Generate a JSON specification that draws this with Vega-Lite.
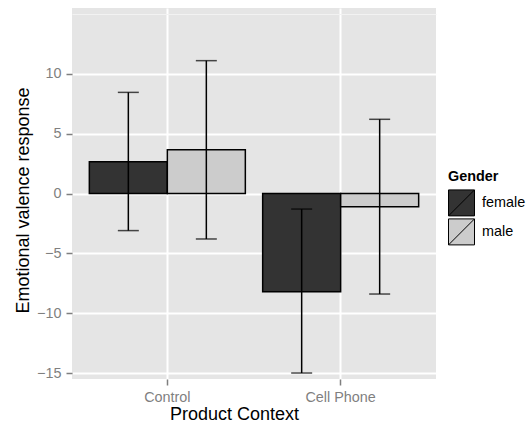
{
  "$schema": "https://vega.github.io/schema/vega-lite/v6.json",
  "autosize": {"type": "none"},
  "padding": {"left": 72, "top": 8, "right": 94, "bottom": 44},
  "width": 364,
  "height": 371,
  "data": {"values": [
    {"context": "Control", "gender": "female", "mean": 2.65, "lo": -3.1, "hi": 8.45},
    {"context": "Control", "gender": "male", "mean": 3.65, "lo": -3.8, "hi": 11.1},
    {"context": "Cell Phone", "gender": "female", "mean": -8.2, "lo": -15.0, "hi": -1.3},
    {"context": "Cell Phone", "gender": "male", "mean": -1.1, "lo": -8.4, "hi": 6.2}
  ]},
  "encoding": {
    "x": {
      "field": "context", "type": "nominal", "sort": ["Control", "Cell Phone"],
      "scale": {"paddingInner": 0.1, "paddingOuter": 0.1},
      "axis": {
        "title": "Product Context", "labelAngle": 0, "domain": false,
        "grid": true, "gridColor": "#FFFFFF", "gridWidth": 2, "bandPosition": 0.5,
        "tickColor": "#7F7F7F", "tickSize": 6, "tickWidth": 1.5,
        "labelColor": "#7F7F7F", "labelFontSize": 14.4, "labelFont": "Liberation Sans", "labelPadding": 5,
        "titleFont": "Liberation Sans", "titleFontSize": 18, "titleFontWeight": "normal", "titleColor": "#000000",
        "titleX": 162, "titleY": 40, "titleBaseline": "alphabetic", "titleAlign": "center", "titleAnchor": null
      }
    },
    "xOffset": {"field": "gender", "type": "nominal", "scale": {"paddingInner": 0, "paddingOuter": 0}}
  },
  "layer": [
    {
      "mark": {"type": "bar", "stroke": "#000000", "strokeWidth": 1.5},
      "encoding": {
        "y": {
          "field": "mean", "type": "quantitative",
          "scale": {"domain": [-15.5, 15.5], "nice": false, "zero": false},
          "axis": {
            "title": "Emotional valence response", "domain": false,
            "values": [-15, -12.5, -10, -7.5, -5, -2.5, 0, 2.5, 5, 7.5, 10, 12.5, 15],
            "format": "d",
            "labelExpr": "(datum.value % 5 === 0 && datum.value < 15) ? datum.label : ''",
            "grid": true,
            "gridColor": {"condition": {"test": "datum.value % 5 === 0 && datum.value < 15", "value": "#FFFFFF"}, "value": "#F2F2F2"},
            "gridWidth": {"condition": {"test": "datum.value % 5 === 0 && datum.value < 15", "value": 2}, "value": 1},
            "tickColor": {"condition": {"test": "datum.value % 5 === 0 && datum.value < 15", "value": "#7F7F7F"}, "value": "rgba(0,0,0,0)"},
            "tickSize": 6, "tickWidth": 1.5,
            "labelColor": "#7F7F7F", "labelFontSize": 14.4, "labelFont": "Liberation Sans", "labelPadding": 5,
            "titleFont": "Liberation Sans", "titleFontSize": 18, "titleFontWeight": "normal", "titleColor": "#000000",
            "titleX": -44, "titleY": 192, "titleBaseline": "alphabetic", "titleAlign": "center", "titleAngle": 270, "titleAnchor": null
          }
        },
        "fill": {
          "field": "gender", "type": "nominal",
          "scale": {"domain": ["female", "male"], "range": ["#333333", "#CCCCCC"]},
          "legend": {
            "title": "Gender", "orient": "none", "legendX": 376, "legendY": 162, "padding": 0,
            "titleFont": "Liberation Sans", "titleFontSize": 14.4, "titleFontWeight": "bold", "titleColor": "#000000", "titlePadding": 5,
            "labelFont": "Liberation Sans", "labelFontSize": 14.4, "labelColor": "#000000", "labelOffset": 7,
            "symbolType": "M-1,-1L1,-1L1,1L-1,1Z M-1,1L1,-1", "symbolSize": 676,
            "symbolStrokeColor": "#000000", "symbolStrokeWidth": 1, "rowPadding": -20
          }
        }
      }
    },
    {
      "mark": {"type": "rule", "color": "#000000", "strokeWidth": 1.5},
      "encoding": {
        "y": {"field": "lo", "type": "quantitative"},
        "y2": {"field": "hi"}
      }
    },
    {
      "mark": {"type": "tick", "color": "#000000", "thickness": 1.5, "size": 21, "orient": "horizontal"},
      "encoding": {"y": {"field": "lo", "type": "quantitative"}}
    },
    {
      "mark": {"type": "tick", "color": "#000000", "thickness": 1.5, "size": 21, "orient": "horizontal"},
      "encoding": {"y": {"field": "hi", "type": "quantitative"}}
    }
  ],
  "config": {
    "view": {"fill": "#E5E5E5", "stroke": null},
    "background": "#FFFFFF"
  }
}
